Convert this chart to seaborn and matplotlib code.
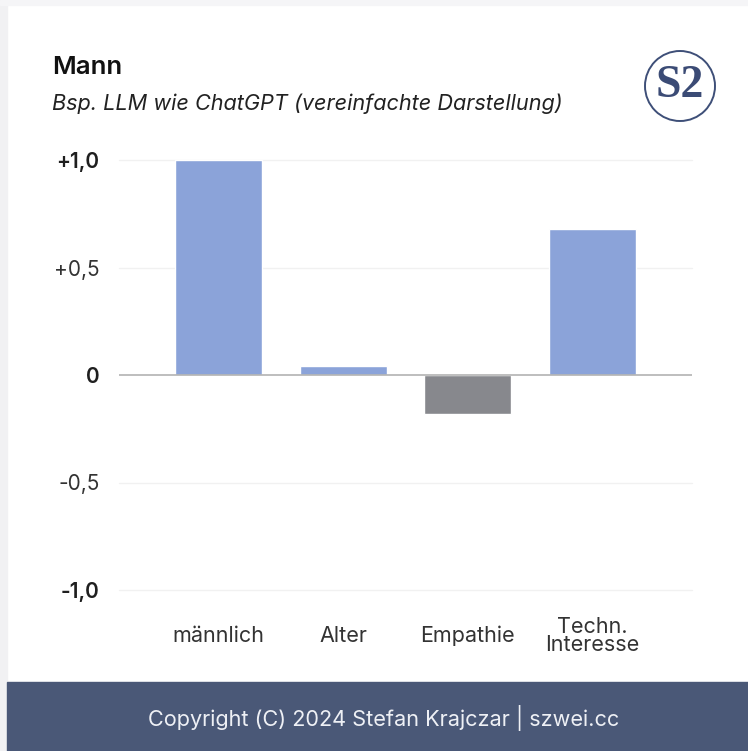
import matplotlib
matplotlib.use("Agg")
import matplotlib.pyplot as plt
import seaborn as sns
import pandas as pd
from matplotlib.patches import Rectangle, Circle

categories = ["männlich", "Alter", "Empathie", "Techn.\nInteresse"]
values = [1.0, 0.04, -0.18, 0.68]
bar_colors = ["#8ba3d9", "#8ba3d9", "#87888d", "#8ba3d9"]
ytick_vals = [-1.0, -0.5, 0.0, 0.5, 1.0]
ytick_labels = ["-1,0", "-0,5", "0", "+0,5", "+1,0"]
ytick_bold = [True, False, True, False, True]
title = "Mann"
subtitle = "Bsp. LLM wie ChatGPT (vereinfachte Darstellung)"
footer = "Copyright (C) 2024 Stefan Krajczar | szwei.cc"

sns.set_theme(style="white")
plt.rcParams["font.family"] = ["Inter", "DejaVu Sans"]

W, H = 748, 751
fig = plt.figure(figsize=(W / 100, H / 100), dpi=100)
fig.patch.set_facecolor("white")

# light page border strips
fig.patches.append(Rectangle((0, 0), 7 / W, 1, transform=fig.transFigure,
                             color="#f1f1f3", zorder=0))
fig.patches.append(Rectangle((0, 1 - 5 / H), 1, 5 / H, transform=fig.transFigure,
                             color="#f5f5f7", zorder=0))

ax = fig.add_axes([119 / W, 1 - 590 / H, (692 - 119) / W, (590 - 160) / H])
df = pd.DataFrame({"cat": categories, "val": values})
sns.barplot(data=df, x="cat", y="val", hue="cat", palette=bar_colors,
            width=0.7, legend=False, ax=ax, saturation=1, zorder=3)
for p in ax.patches:
    p.set_clip_on(False)

ax.set_xlim(-0.8, 3.8)
ax.set_ylim(-1.0, 1.0)
ax.set_xlabel("")
ax.set_ylabel("")
for s in ax.spines.values():
    s.set_visible(False)

for v in [1.0, 0.5, -0.5, -1.0]:
    ax.axhline(v, color="#f1f1f1", lw=1, zorder=1, clip_on=False)
ax.axhline(0, color="#b3b3b3", lw=1.2, zorder=4)

ax.set_yticks(ytick_vals)
ax.set_yticklabels(ytick_labels)
for lbl, b in zip(ax.get_yticklabels(), ytick_bold):
    lbl.set_fontweight("semibold" if b else "normal")
    lbl.set_color("#1f1f1f" if b else "#333333")
ax.tick_params(axis="y", length=0, pad=14, labelsize=15)

ax.set_xticks(range(len(categories)))
ax.set_xticklabels(categories, linespacing=0.9)
for lbl in ax.get_xticklabels():
    lbl.set_verticalalignment("center")
    lbl.set_color("#333333")
ax.tick_params(axis="x", length=0, pad=33, labelsize=15.5)

# titles
fig.text(52 / W, 1 - 68 / H, title, fontsize=18.5, fontweight="semibold",
         color="#111111", va="center", ha="left")
fig.text(52 / W, 1 - 104 / H, subtitle, fontsize=15.6, style="italic",
         color="#222222", va="center", ha="left")

# logo
lax = fig.add_axes([(680 - 40) / W, 1 - (86 + 40) / H, 80 / W, 80 / H])
lax.set_xlim(-40, 40)
lax.set_ylim(-40, 40)
lax.set_aspect("equal")
lax.axis("off")
lax.add_patch(Circle((1.5, -3), 33, facecolor="#e9ecf3", edgecolor="none", alpha=0.6))
lax.add_patch(Circle((0, 0), 35, facecolor="white", edgecolor="#3e4f78", lw=1.4))
lax.text(0, 0, "S2", fontsize=33, family=["Liberation Serif", "DejaVu Serif"],
         fontweight="bold", color="#3b4b75", ha="center", va="center")

# footer
fig.patches.append(Rectangle((7 / W, 0), 1, (H - 682) / H, transform=fig.transFigure,
                             color="#4a5877", zorder=1))
fig.text(384 / W, 1 - 718 / H, footer, fontsize=15.6, color="#eef0f5",
         ha="center", va="center")

fig.savefig("out.png", dpi=100)
